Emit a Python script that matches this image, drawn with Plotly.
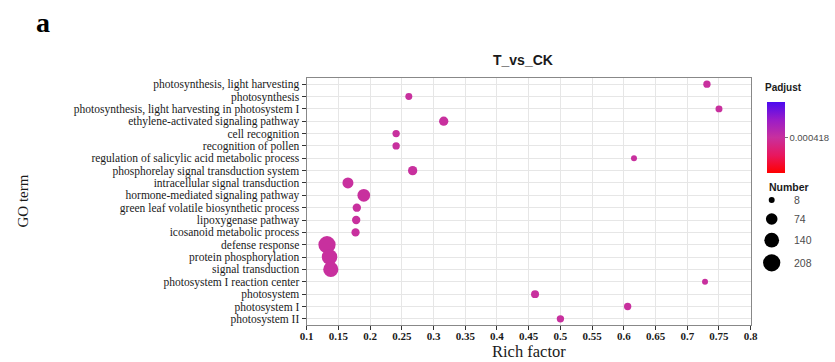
import numpy as np
import plotly.graph_objects as go

# ---- data ----
terms = [
    "photosynthesis, light harvesting",
    "photosynthesis",
    "photosynthesis, light harvesting in photosystem I",
    "ethylene-activated signaling pathway",
    "cell recognition",
    "recognition of pollen",
    "regulation of salicylic acid metabolic process",
    "phosphorelay signal transduction system",
    "intracellular signal transduction",
    "hormone-mediated signaling pathway",
    "green leaf volatile biosynthetic process",
    "lipoxygenase pathway",
    "icosanoid metabolic process",
    "defense response",
    "protein phosphorylation",
    "signal transduction",
    "photosystem I reaction center",
    "photosystem",
    "photosystem I",
    "photosystem II",
]
rich_factor = [0.731, 0.261, 0.750, 0.316, 0.241, 0.241, 0.616, 0.267, 0.165, 0.190,
               0.179, 0.178, 0.177, 0.132, 0.136, 0.138, 0.728, 0.460, 0.606, 0.500]
number = [18, 15, 15, 39, 18, 18, 8, 39, 64, 95,
          28, 28, 27, 208, 160, 150, 8, 24, 18, 18]
padjust = [0.000418] * 20

size_breaks = [8, 74, 140, 208]
x_ticks = [0.1, 0.15, 0.2, 0.25, 0.3, 0.35, 0.4, 0.45, 0.5, 0.55, 0.6, 0.65, 0.7, 0.75, 0.8]
cbar_ticks = [0.000418]

W, H = 835, 362
SERIF = "Liberation Serif"
SANS = "Liberation Sans"


def dot_size(n):
    return 3.2 + 0.975 * np.sqrt(np.asarray(n, dtype=float))


cscale = [[0.0, "#FF0000"], [0.25, "#E8175F"], [0.5, "#C8309E"],
          [0.75, "#9A1CC8"], [1.0, "#4B0AF0"]]

fig = go.Figure()

fig.add_trace(go.Scatter(
    x=rich_factor, y=terms, mode="markers",
    marker=dict(
        size=dot_size(number), color=padjust, colorscale=cscale,
        cmin=0.000318, cmax=0.000518, line=dict(width=0), opacity=1,
        colorbar=dict(
            x=766.7 / W, xanchor="left", xpad=0,
            y=1 - 137.3 / H, yanchor="middle", ypad=0,
            len=71, lenmode="pixels", thickness=18, outlinewidth=0,
            tickvals=cbar_ticks, ticktext=["0.000418"],
            ticks="outside", ticklen=3, tickcolor="#777",
            tickfont=dict(family=SANS, size=9.5, color="#4d4d4d"),
        ),
    ),
    showlegend=False, xaxis="x", yaxis="y",
))

# size legend drawn on an overlay axis measured in figure pixels
leg_d = dot_size(size_breaks)
leg_y = [200.0]
for i in range(1, len(size_breaks)):
    leg_y.append(leg_y[-1] + 14.6 + (leg_d[i - 1] + leg_d[i]) / 4)
fig.add_trace(go.Scatter(
    x=[771.7] * len(size_breaks), y=leg_y, mode="markers",
    marker=dict(size=leg_d, color="#000000", line=dict(width=0), opacity=1),
    showlegend=False, xaxis="x2", yaxis="y2", hoverinfo="skip",
))

plot_l, plot_r, plot_t, plot_b = 306.7, 750.7, 78, 325

fig.update_layout(
    width=W, height=H, margin=dict(l=0, r=0, t=0, b=0),
    paper_bgcolor="white", plot_bgcolor="rgba(0,0,0,0)",
    xaxis=dict(
        domain=[plot_l / W, plot_r / W], range=[0.1, 0.8],
        tickvals=x_ticks, ticktext=[f"{v:g}" for v in x_ticks],
        showgrid=True, gridcolor="#e6e6e6", gridwidth=1,
        zeroline=False, showline=True, linecolor="#888", linewidth=1.2, mirror=True,
        ticks="outside", ticklen=4, tickcolor="#333", ticklabelstandoff=-3,
        tickfont=dict(family=SERIF, size=11, color="#1a1a1a", weight="bold"),
        automargin=False, anchor="y",
    ),
    yaxis=dict(
        domain=[1 - plot_b / H, 1 - plot_t / H],
        type="category", categoryorder="array", categoryarray=terms,
        range=[len(terms) - 0.5, -0.5], tickmode="linear", dtick=1,
        showgrid=True, gridcolor="#e6e6e6", gridwidth=1,
        zeroline=False, showline=True, linecolor="#888", linewidth=1.2, mirror=True,
        ticks="outside", ticklen=4, tickcolor="#333",
        tickfont=dict(family=SERIF, size=11.5, color="#1a1a1a"),
        automargin=False, anchor="x",
    ),
    xaxis2=dict(domain=[0, 1], range=[0, W], visible=False, anchor="y2", fixedrange=True),
    yaxis2=dict(domain=[0, 1], range=[H, 0], visible=False, anchor="x2", fixedrange=True),
)

ann = [
    dict(text="<b>a</b>", x=43, y=22, font=dict(family=SERIF, size=28, color="black")),
    dict(text="<b>T_vs_CK</b>", x=523, y=60, font=dict(family=SANS, size=14, color="#1a1a1a")),
    dict(text="Rich factor", x=(plot_l + plot_r) / 2, y=351.5,
         font=dict(family=SERIF, size=16.5, color="#1a1a1a")),
    dict(text="GO term", x=22, y=(plot_t + plot_b) / 2, textangle=-90,
         font=dict(family=SERIF, size=15, color="#1a1a1a")),
    dict(text="<b>Padjust</b>", x=763, y=87, xanchor="left",
         font=dict(family=SANS, size=10, color="#1a1a1a")),
    dict(text="<b>Number</b>", x=767, y=187, xanchor="left",
         font=dict(family=SANS, size=10.5, color="#1a1a1a")),
]
for v, yy in zip(size_breaks, leg_y):
    ann.append(dict(text=str(v), x=792, y=yy, xanchor="left",
                    font=dict(family=SANS, size=10.5, color="#4d4d4d")))
for a in ann:
    a.setdefault("xanchor", "center")
    fig.add_annotation(xref="x2", yref="y2", showarrow=False, yanchor="middle", **a)

fig.write_html("out.html", config={"displayModeBar": False},
               post_script="document.body.style.margin='0';document.body.style.padding='0';")
